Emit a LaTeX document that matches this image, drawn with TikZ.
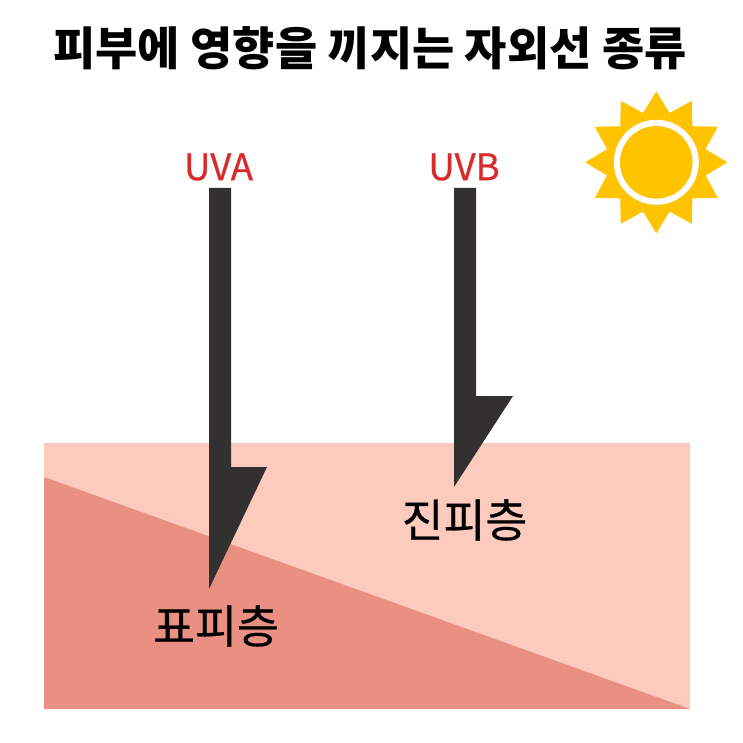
\documentclass[tikz,border=0pt]{standalone}
\usepackage{fontspec}
\setmainfont{Noto Sans CJK KR}
\newfontfamily\medfont[FakeBold=0.6]{Noto Sans CJK KR}
\definecolor{skinlight}{HTML}{FDCBBE}
\definecolor{skindark}{HTML}{EA9083}
\definecolor{rayink}{HTML}{32312F}
\definecolor{sunyellow}{HTML}{FFC300}
\definecolor{uvred}{HTML}{D92B2B}
\tikzset{
  ray/.style={fill=rayink,draw=none},
  uvlabel/.style={text=uvred,font=\medfont\fontsize{36.6}{40}\selectfont,inner sep=0pt},
  layerlabel/.style={text=black,font=\medfont\fontsize{45.5}{50}\selectfont,inner sep=0pt},
  titlelabel/.style={text=black,font=\bfseries\fontsize{45.9}{50}\selectfont,inner sep=0pt}
}
\begin{document}
\begin{tikzpicture}[x=1pt,y=-1pt]
\useasboundingbox (0,0) rectangle (743,743);
\fill[white] (0,0) rectangle (743,743);
\fill[skinlight] (44,443) rectangle (690,709);
\fill[skindark] (44,477) -- (690,709) -- (44,709) -- cycle;
\fill[ray] (209,188) -- (231,188) -- (231,467) -- (267,467) -- (209,589) -- cycle;
\fill[ray] (454,188) -- (476,188) -- (476,396) -- (513,396) -- (454,487) -- cycle;
% sun
\begin{scope}[shift={(656.3,162.3)}]
\fill[sunyellow] (0,-71)
  \foreach \i in {1,...,11}{
    -- ({51*sin(30*\i-15)},{-51*cos(30*\i-15)})
    -- ({71*sin(30*\i)},{-71*cos(30*\i)})
  } -- ({51*sin(345)},{-51*cos(345)}) -- cycle;
\fill[white] (0,0) circle[radius=42.5];
\fill[sunyellow] (0,0) circle[radius=36.3];
\end{scope}
\node[titlelabel] (title) at (370,48) {피부에 영향을 끼지는 자외선 종류};
\node[uvlabel] (uva) at (218.5,167) {UVA};
\node[uvlabel] (uvb) at (464,167) {UVB};
\node[layerlabel] (jin) at (464.5,520) {진피층};
\node[layerlabel] (pyo) at (216,626) {표피층};
\end{tikzpicture}
\end{document}
